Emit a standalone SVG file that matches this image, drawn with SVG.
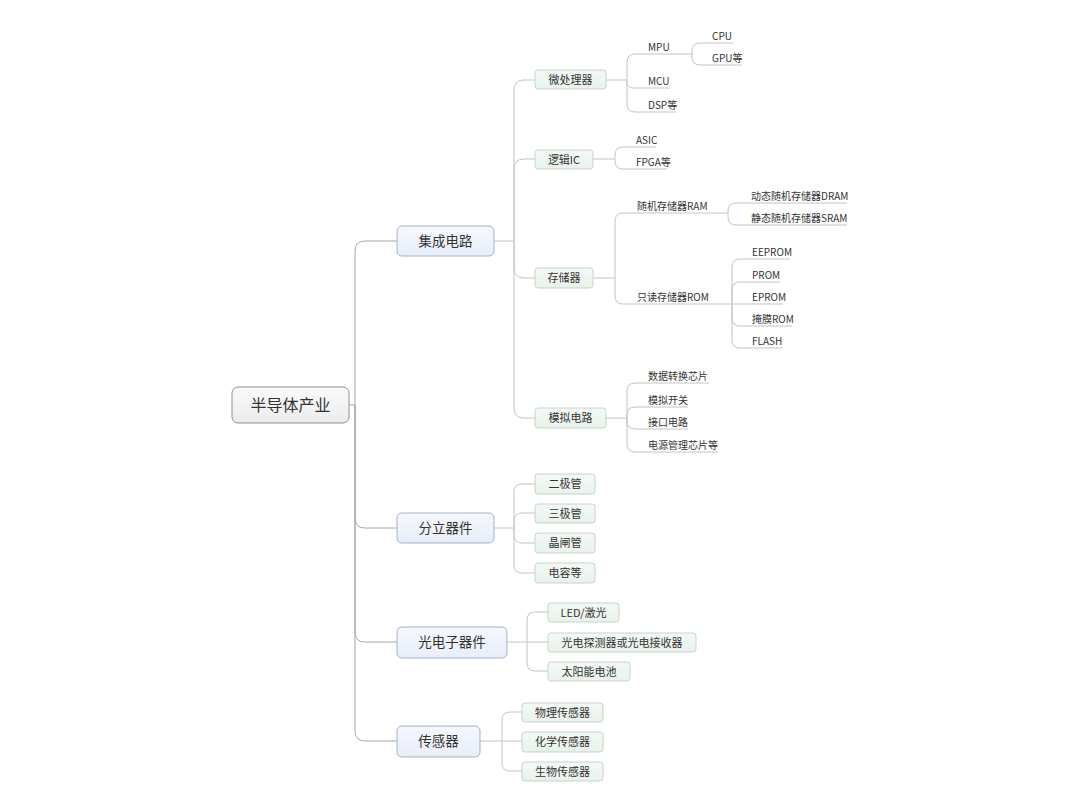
<svg xmlns="http://www.w3.org/2000/svg" width="1080" height="810" viewBox="0 0 1080 810">
<defs>
<linearGradient id="gRoot" x1="0" y1="0" x2="0" y2="1"><stop offset="0" stop-color="#fafafa"/><stop offset="1" stop-color="#ececec"/></linearGradient>
<linearGradient id="gL1" x1="0" y1="0" x2="0" y2="1"><stop offset="0" stop-color="#f6f8fd"/><stop offset="1" stop-color="#e8edf8"/></linearGradient>
<linearGradient id="gL2" x1="0" y1="0" x2="0" y2="1"><stop offset="0" stop-color="#f4f9f5"/><stop offset="1" stop-color="#e8f2eb"/></linearGradient>
</defs>
<style>
text{font-family:"Noto Sans CJK SC","Liberation Sans",sans-serif;fill:#333}
.root rect{fill:url(#gRoot);stroke:#8f8f8f;stroke-width:1}
.root text{font-size:16px}
.l1 rect{fill:url(#gL1);stroke:#a3b1cc;stroke-width:1}
.l1 text{font-size:13.5px}
.l2 rect{fill:url(#gL2);stroke:#c3d6c9;stroke-width:1}
.l2 text{font-size:11px}
.l3 text{font-size:10px}
.c{fill:none;stroke:#c4c4c4;stroke-width:1}
.c0{fill:none;stroke:#a8a8a8;stroke-width:1}
</style>
<rect width="1080" height="810" fill="#ffffff"/>
<g id="connectors">
<!-- root -->
<path class="c0" d="M349 405 H355 M355 405 V251 Q355 241 365 241 H397 M355 405 V518 Q355 528 365 528 H397 M355 405 V632 Q355 642 365 642 H397 M355 405 V731 Q355 741 365 741 H397"/>
<!-- 集成电路 -->
<path class="c" d="M494 241 H514 M514 241 V90 Q514 80 524 80 H535 M514 241 V169 Q514 159 524 159 H535 M514 241 V268 Q514 278 524 278 H535 M514 241 V408 Q514 418 524 418 H535"/>
<!-- 分立器件 -->
<path class="c" d="M494 528 H514 M514 528 V492 Q514 484 522 484 H535 M514 528 V521 Q514 513 522 513 H535 M514 528 V535 Q514 543 522 543 H535 M514 528 V565 Q514 573 522 573 H535"/>
<!-- 光电子器件 -->
<path class="c" d="M507 642 H548 M527 642 V620 Q527 612 535 612 H548 M527 642 V663 Q527 671 535 671 H548"/>
<!-- 传感器 -->
<path class="c" d="M480 741 H522 M502 741 V720 Q502 712 510 712 H522 M502 741 V763 Q502 771 510 771 H522"/>
<!-- 微处理器 -->
<path class="c" d="M606 80 H627 M627 80 V62 Q627 54 635 54 H692 M627 80 V82 Q627 88 633 88 H670 M627 80 V104 Q627 112 635 112 H676"/>
<!-- MPU -->
<path class="c" d="M692 54 V51 Q692 43 700 43 H733 M692 54 V57 Q692 65 700 65 H742"/>
<!-- 逻辑IC -->
<path class="c" d="M593 159 H615 M615 159 V155 Q615 147 623 147 H656 M615 159 V161 Q615 169 623 169 H667"/>
<!-- 存储器 -->
<path class="c" d="M593 278 H615 M615 278 V221 Q615 213 623 213 H728 M615 278 V296 Q615 304 623 304 H732"/>
<!-- RAM -->
<path class="c" d="M728 213 V211 Q728 203 736 203 H847 M728 213 V217 Q728 225 736 225 H847"/>
<!-- ROM -->
<path class="c" d="M732 304 V267 Q732 259 740 259 H790 M732 304 V290 Q732 282 740 282 H780 M732 304 H783 M732 304 V318 Q732 326 740 326 H792 M732 304 V340 Q732 348 740 348 H782"/>
<!-- 模拟电路 -->
<path class="c" d="M606 418 H627 M627 418 V391 Q627 383 635 383 H709 M627 418 V415 Q627 407 635 407 H688 M627 418 V421 Q627 429 635 429 H688 M627 418 V444 Q627 452 635 452 H718"/>
</g>
<g id="n-root" class="root"><rect x="232" y="387" width="117" height="36" rx="6"/><text x="290.5" y="410.5" text-anchor="middle">半导体产业</text></g>
<g id="n-ic" class="l1"><rect x="397" y="226" width="97" height="30" rx="5"/><text x="445.5" y="246" text-anchor="middle">集成电路</text></g>
<g id="n-discrete" class="l1"><rect x="397" y="513" width="97" height="30" rx="5"/><text x="445.5" y="533" text-anchor="middle">分立器件</text></g>
<g id="n-opto" class="l1"><rect x="397" y="627" width="110" height="31" rx="5"/><text x="452" y="647" text-anchor="middle">光电子器件</text></g>
<g id="n-sensor" class="l1"><rect x="397" y="726" width="83" height="31" rx="5"/><text x="438.5" y="746" text-anchor="middle">传感器</text></g>
<g id="n-mpu-group" class="l2"><rect x="535" y="70" width="71" height="19" rx="3"/><text x="570.5" y="83.8" text-anchor="middle">微处理器</text></g>
<g id="n-logic" class="l2"><rect x="535" y="150" width="58" height="19" rx="3"/><text x="564" y="163.8" text-anchor="middle">逻辑IC</text></g>
<g id="n-mem" class="l2"><rect x="535" y="268" width="58" height="20" rx="3"/><text x="564" y="282" text-anchor="middle">存储器</text></g>
<g id="n-analog" class="l2"><rect x="535" y="408" width="71" height="20" rx="3"/><text x="570.5" y="422" text-anchor="middle">模拟电路</text></g>
<g id="n-diode" class="l2"><rect x="535" y="474" width="60" height="20" rx="3"/><text x="565" y="488" text-anchor="middle">二极管</text></g>
<g id="n-triode" class="l2"><rect x="535" y="504" width="60" height="19" rx="3"/><text x="565" y="517.5" text-anchor="middle">三极管</text></g>
<g id="n-thyristor" class="l2"><rect x="535" y="533" width="60" height="20" rx="3"/><text x="565" y="547" text-anchor="middle">晶闸管</text></g>
<g id="n-cap" class="l2"><rect x="535" y="563" width="60" height="20" rx="3"/><text x="565" y="577" text-anchor="middle">电容等</text></g>
<g id="n-led" class="l2"><rect x="548" y="603" width="71" height="19" rx="3"/><text x="583.5" y="616.5" text-anchor="middle">LED/激光</text></g>
<g id="n-photodet" class="l2"><rect x="548" y="633" width="148" height="19" rx="3"/><text x="622" y="646.5" text-anchor="middle">光电探测器或光电接收器</text></g>
<g id="n-solar" class="l2"><rect x="548" y="662" width="82" height="19" rx="3"/><text x="589" y="675.5" text-anchor="middle">太阳能电池</text></g>
<g id="n-phys" class="l2"><rect x="522" y="703" width="81" height="19" rx="3"/><text x="562.5" y="716.5" text-anchor="middle">物理传感器</text></g>
<g id="n-chem" class="l2"><rect x="522" y="732" width="81" height="20" rx="3"/><text x="562.5" y="746" text-anchor="middle">化学传感器</text></g>
<g id="n-bio" class="l2"><rect x="522" y="762" width="81" height="19" rx="3"/><text x="562.5" y="775.5" text-anchor="middle">生物传感器</text></g>
<g id="n-mpu" class="l3"><text x="648" y="50.5">MPU</text></g>
<g id="n-cpu" class="l3"><text x="712" y="39.5">CPU</text></g>
<g id="n-gpu" class="l3"><text x="712" y="61.5">GPU等</text></g>
<g id="n-mcu" class="l3"><text x="648" y="84.5">MCU</text></g>
<g id="n-dsp" class="l3"><text x="648" y="108.5">DSP等</text></g>
<g id="n-asic" class="l3"><text x="636" y="143.5">ASIC</text></g>
<g id="n-fpga" class="l3"><text x="636" y="165.5">FPGA等</text></g>
<g id="n-ram" class="l3"><text x="637" y="209.5">随机存储器RAM</text></g>
<g id="n-dram" class="l3"><text x="751" y="199.5">动态随机存储器DRAM</text></g>
<g id="n-sram" class="l3"><text x="751" y="221.5">静态随机存储器SRAM</text></g>
<g id="n-rom" class="l3"><text x="637" y="300.5">只读存储器ROM</text></g>
<g id="n-eeprom" class="l3"><text x="752" y="255.5">EEPROM</text></g>
<g id="n-prom" class="l3"><text x="752" y="278.5">PROM</text></g>
<g id="n-eprom" class="l3"><text x="752" y="300.5">EPROM</text></g>
<g id="n-maskrom" class="l3"><text x="752" y="322.5">掩膜ROM</text></g>
<g id="n-flash" class="l3"><text x="752" y="344.5">FLASH</text></g>
<g id="n-adc" class="l3"><text x="648" y="379.5">数据转换芯片</text></g>
<g id="n-switch" class="l3"><text x="648" y="403.5">模拟开关</text></g>
<g id="n-iface" class="l3"><text x="648" y="425.5">接口电路</text></g>
<g id="n-pmic" class="l3"><text x="648" y="448.5">电源管理芯片等</text></g>
</svg>
